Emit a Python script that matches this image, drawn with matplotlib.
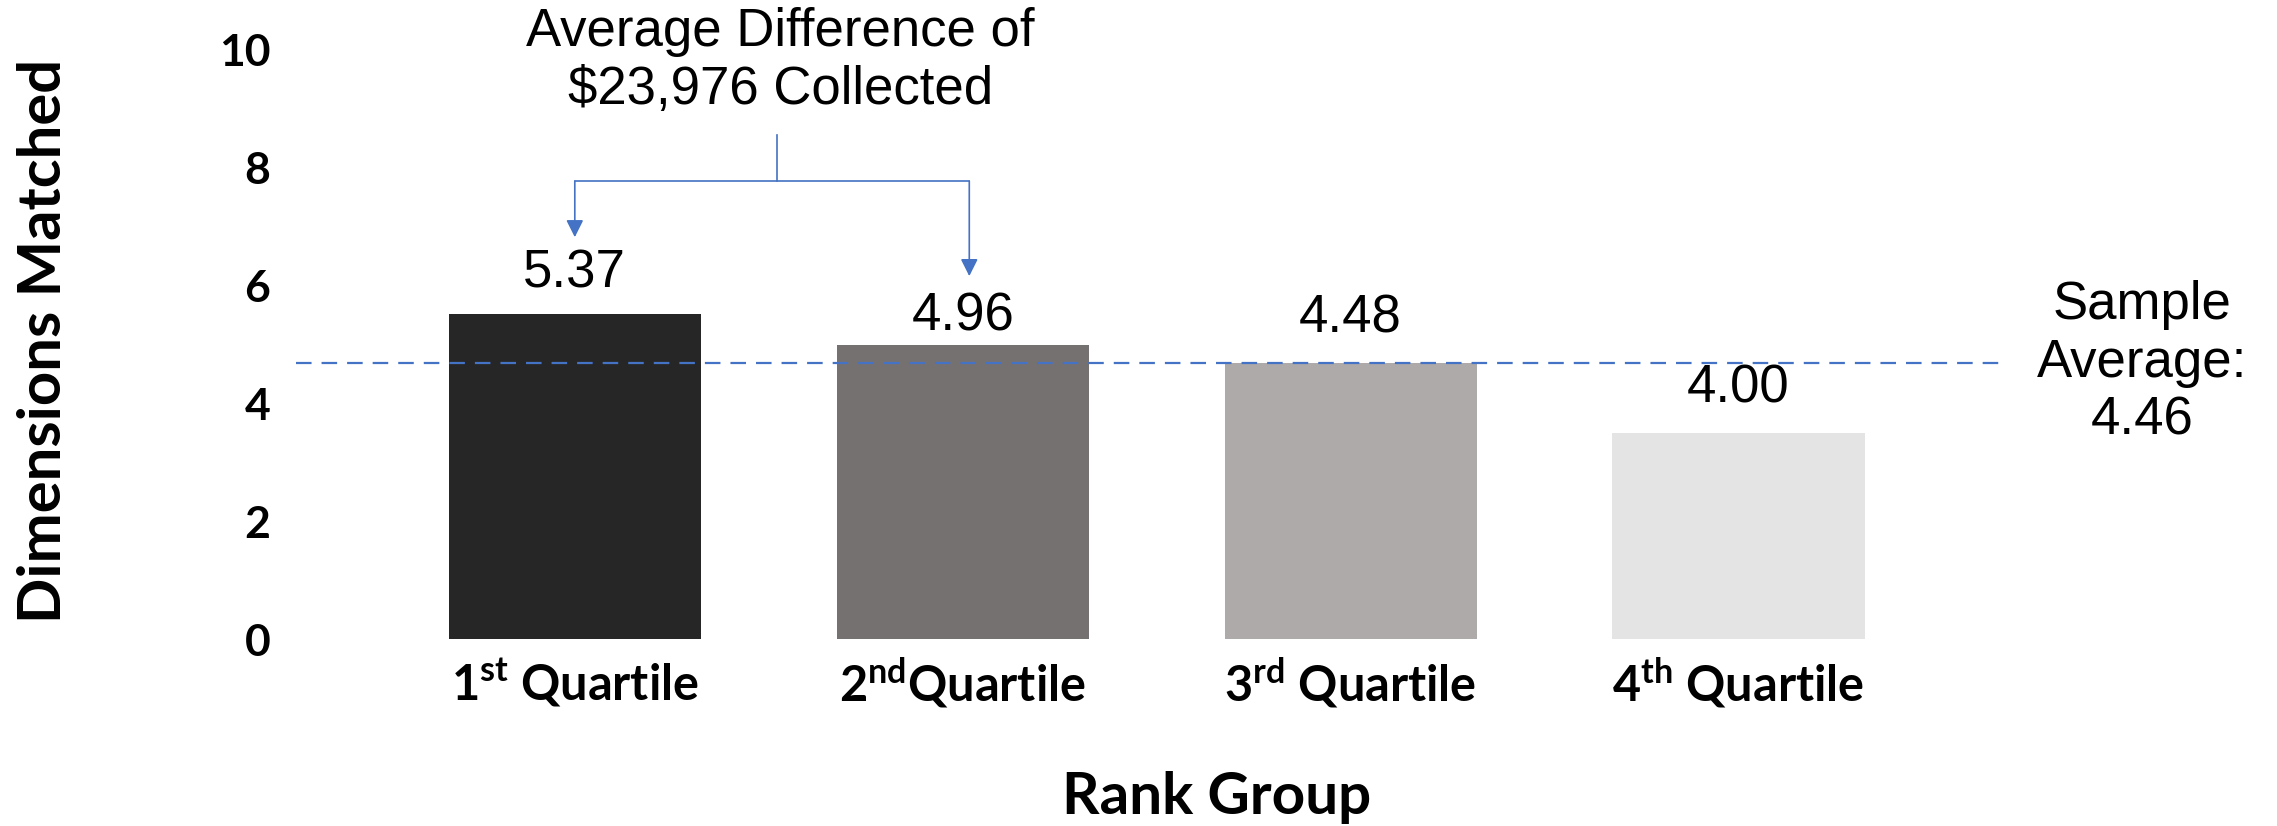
import matplotlib
matplotlib.use("Agg")
import matplotlib.pyplot as plt
import numpy as np

# data
groups = ["1$^{\\mathrm{st}}$ Quartile", "2$^{\\mathrm{nd}}$Quartile",
          "3$^{\\mathrm{rd}}$ Quartile", "4$^{\\mathrm{th}}$ Quartile"]
heights = [5.51, 4.98, 4.68, 3.49]
value_labels = ["5.37", "4.96", "4.48", "4.00"]
sample_avg = 4.68
sample_avg_label = "Sample\nAverage:\n4.46"
note = "Average Difference of\n$23,976 Collected"
colors = ["#262626", "#767171", "#AEAAAA", "#E4E4E4"]
blue = "#4472C4"

plt.rcParams['mathtext.fontset'] = 'custom'
plt.rcParams['mathtext.rm'] = 'Lato:bold'
plt.rcParams['mathtext.it'] = 'Lato:bold'
plt.rcParams['mathtext.bf'] = 'Lato:bold'

W, H = 2277, 826
fig = plt.figure(figsize=(W / 100, H / 100), dpi=100)
ax = fig.add_axes([280 / W, 187 / H, 1730 / W, 619.5 / H])

x = np.arange(len(groups))
bars = ax.bar(x, heights, width=0.65, color=colors)
# labels sit at slightly different gaps above the bars in the original
pads = [11, 3, 14, 14]
for b, lab, p in zip(bars, value_labels, pads):
    ax.annotate(lab, (b.get_x() + b.get_width() / 2, b.get_height()),
                xytext=(0, p), textcoords="offset points", ha="center",
                va="bottom", fontsize=38, family="Liberation Sans")

ax.set_xlim(-0.76, 3.70)
ax.set_ylim(0, 10.5)
ax.set_yticks(range(0, 11, 2))
ax.set_yticklabels([str(v) for v in range(0, 11, 2)], fontsize=32,
                   fontweight="bold", family="Lato")
ax.set_xticks(x)
ax.set_xticklabels(groups, fontsize=35, fontweight="bold", family="Lato")
ax.tick_params(axis="y", length=0, pad=7)
ax.tick_params(axis="x", length=0, pad=12)
for s in ax.spines.values():
    s.set_visible(False)

# sample average line
ax.axhline(sample_avg, xmin=0.009, xmax=0.997, color=blue, lw=1.6,
           linestyle=(0, (7, 4.5)))
ax.text(4.04, sample_avg, sample_avg_label, ha="center", va="center",
        fontsize=38, family="Liberation Sans", linespacing=1.2, clip_on=False)

# bracket with arrows
y_top, y_mid = 8.54, 7.76
ax.plot([0.52, 0.52], [y_top, y_mid], color=blue, lw=1.2, clip_on=False)
ax.plot([x[0], 1.017], [y_mid, y_mid], color=blue, lw=1.2, clip_on=False)
for xa, ya in [(x[0], 6.81), (1.017, 6.15)]:
    ax.annotate("", xy=(xa, ya), xytext=(xa, y_mid),
                arrowprops=dict(arrowstyle="-|>", color=blue, lw=1.2,
                                mutation_scale=26, shrinkA=0, shrinkB=0),
                annotation_clip=False)
ax.text(0.53, 9.79, note, ha="center", va="center", fontsize=38,
        family="Liberation Sans", linespacing=1.2, clip_on=False)

fig.text(1217 / W, 1 - 798 / H, "Rank Group", ha="center", va="center",
         fontsize=42, fontweight="bold", family="Lato")
fig.text(44 / W, 1 - 341 / H, "Dimensions Matched", ha="center", va="center",
         rotation=90, fontsize=43, fontweight="bold", family="Lato")

fig.savefig("out.png", dpi=100)
